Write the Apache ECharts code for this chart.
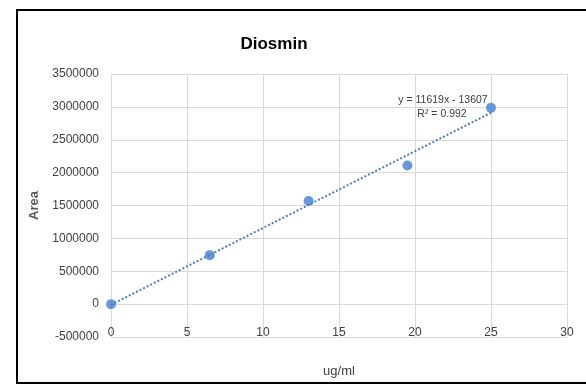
<!DOCTYPE html>
<html><head><meta charset="utf-8">
<script src="https://cdn.jsdelivr.net/npm/echarts@6/dist/echarts.min.js"></script>
<style>html,body{margin:0;padding:0;background:#fff}#c{width:586px;height:385px}</style>
</head><body><div id="c"></div>
<script>
var titleText = 'Diosmin';
var xName = 'ug/ml';
var yName = 'Area';
var concentrations = [0, 6.5, 13, 19.5, 25];
var areas = [0, 745000, 1568000, 2109000, 2985000];
var trendX = [0, 25];
var trendY = [-10000, 2910000];
var equationLines = ['y = 11619x - 13607', 'R\u00B2 = 0.992'];

var FONT = "'Liberation Sans', sans-serif";
var chart = echarts.init(document.getElementById('c'));
chart.setOption({
  animation: false,
  backgroundColor: '#fff',
  title: {
    text: titleText, left: 269, top: 31, textAlign: 'center',
    textStyle: {fontFamily: FONT, fontSize: 17, fontWeight: 'bold', color: '#000'}
  },
  grid: {left: 111, right: 19, top: 74, bottom: 48},
  xAxis: {
    type: 'value', min: 0, max: 30, interval: 5,
    name: xName, nameLocation: 'middle', nameGap: 28,
    nameTextStyle: {fontFamily: FONT, fontSize: 13, color: '#404040'},
    axisLine: {show: false}, axisTick: {show: false},
    axisLabel: {margin: -10, fontFamily: FONT, fontSize: 12, color: '#404040'},
    splitLine: {show: true, lineStyle: {color: '#d9d9d9', width: 1}}
  },
  yAxis: {
    type: 'value', min: -500000, max: 3500000, interval: 500000,
    name: yName, nameLocation: 'middle', nameGap: 64, nameRotate: 90,
    nameTextStyle: {fontFamily: FONT, fontSize: 13, fontWeight: 'bold', color: '#595959'},
    axisLine: {show: true, onZero: false, lineStyle: {color: '#d9d9d9'}}, axisTick: {show: false},
    axisLabel: {margin: 12, fontFamily: FONT, fontSize: 12, color: '#404040', formatter: function (v) { return String(v); }},
    splitLine: {show: true, lineStyle: {color: '#d9d9d9', width: 1}}
  },
  series: [
    {
      type: 'line', data: trendX.map(function (x, i) { return [x, trendY[i]]; }),
      symbol: 'none', lineStyle: {color: '#4a7fb8', width: 2, type: [2, 2]}, z: 2
    },
    {
      type: 'scatter', data: concentrations.map(function (x, i) { return [x, areas[i]]; }),
      symbolSize: 10, itemStyle: {color: '#4180cc'}, z: 3
    }
  ],
  graphic: [
    {type: 'rect', shape: {x: 17, y: 10, width: 620, height: 373}, style: {fill: 'none', stroke: '#000', lineWidth: 2}, silent: true},
    {type: 'text', x: 443, y: 100, style: {text: equationLines[0], fontFamily: FONT, fontSize: 10.5, fill: '#404040', align: 'center', verticalAlign: 'middle'}},
    {type: 'text', x: 442, y: 114, style: {text: equationLines[1], fontFamily: FONT, fontSize: 10.5, fill: '#404040', align: 'center', verticalAlign: 'middle'}}
  ]
});
</script></body></html>
